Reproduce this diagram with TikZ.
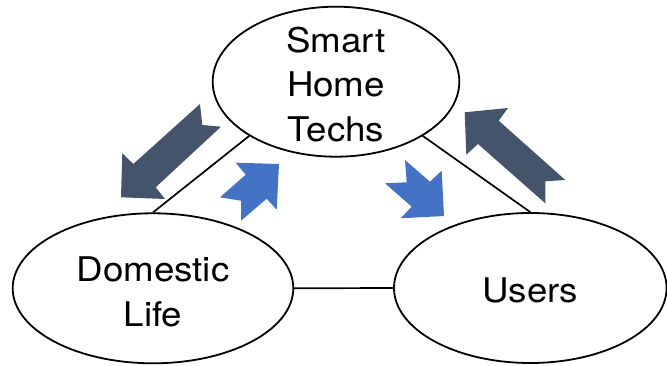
\documentclass[tikz,border=0pt]{standalone}
\usepackage{fontspec}
\setmainfont{TeX Gyre Heros}[FakeStretch=1.08]
\usetikzlibrary{shapes.geometric}
\definecolor{darkarr}{HTML}{44546A}
\definecolor{bluearr}{HTML}{4472C4}
\begin{document}
\begin{tikzpicture}[x=1pt,y=-1pt,
  oval/.style={ellipse, draw=black, line width=1.8pt, inner sep=0pt, minimum height=150pt},
  lbl/.style={align=center, font=\fontsize{34}{44.5}\selectfont, inner sep=0pt},
  link/.style={line width=1.7pt},
  darkarrow/.style={fill=darkarr, draw=none},
  bluearrow/.style={fill=bluearr, draw=none}]
\useasboundingbox (0,0) rectangle (667,366);
% ellipses
\node[oval, minimum width=246.6pt] (smart) at (336,81.7) {};
\node[oval, minimum width=280.6pt] (domestic) at (153,288.3) {};
\node[oval, minimum width=272.6pt] (users) at (530.3,288) {};
% labels
\node[lbl] (smarttxt) at ([yshift=-2.5pt]smart.center) {Smart\\Home\\Techs};
\node[lbl] (domestictxt) at ([yshift=-3.5pt]domestic.center) {Domestic\\Life};
\node[lbl] (userstxt) at ([yshift=-2pt]users.center) {Users};
% connectors
\draw[link] (domestic.east) -- (users.west);
\draw[link] (domestic.north) -- (smart.212);
\draw[link] (users.north) -- (smart.328);
% dark arrows
\fill[darkarrow] (121,197.3) -- (122.3,153.3) -- (133.3,164) -- (200,104) -- (202.3,125) -- (221,126.7) -- (155.7,187.3) -- (165,199) -- cycle;
\fill[darkarrow] (464.7,112.3) -- (508,108) -- (498.7,120.7) -- (565.3,180) -- (545.3,181.3) -- (545.3,203.3) -- (478,144) -- (466.3,154.7) -- cycle;
% blue arrows
\fill[bluearrow] (279,164) -- (235.7,162.7) -- (245.7,174.7) -- (220,197.3) -- (241,200.7) -- (241,220.7) -- (266.7,198.7) -- (276.7,209.7) -- cycle;
\fill[bluearrow] (444,216) -- (441.7,170.7) -- (430,181.7) -- (405,160) -- (406.7,182.3) -- (385,183.3) -- (411.7,206.7) -- (400.7,218.3) -- cycle;
\end{tikzpicture}
\end{document}
